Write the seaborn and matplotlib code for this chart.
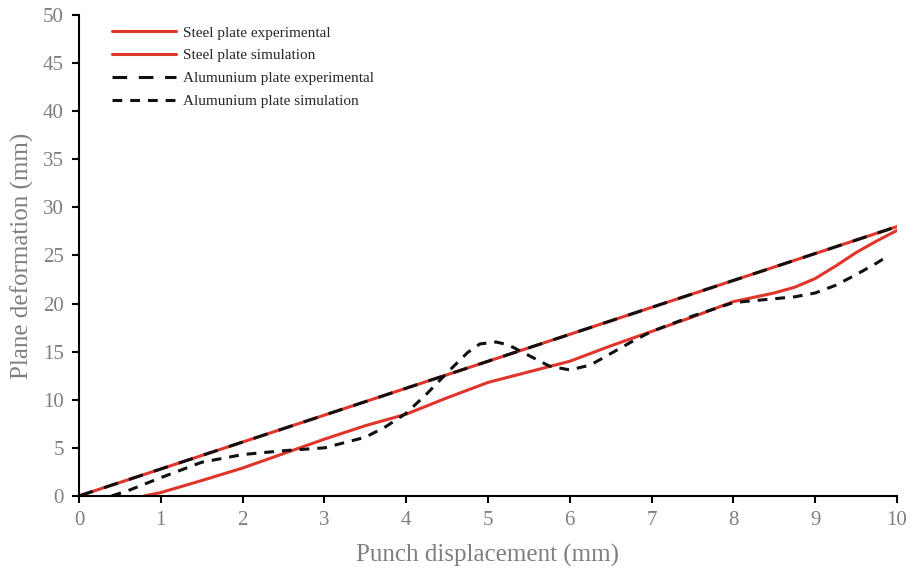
import numpy as np
import pandas as pd
import seaborn as sns
import matplotlib.pyplot as plt

# values
exp_x = [0, 10]
steel_exp_y = [0, 28]
alu_exp_y = [0, 28]

steel_sim_x = [0.8, 1.0, 1.5, 2.0, 2.5, 3.0, 3.5, 4.0, 4.5, 5.0, 5.5, 6.0, 6.5, 7.0, 7.5, 8.0,
               8.5, 8.75, 9.0, 9.25, 9.5, 9.75, 10.0]
steel_sim_y = [0.0, 0.35, 1.6, 2.9, 4.4, 5.9, 7.3, 8.5, 10.2, 11.8, 12.9, 14.0, 15.6, 17.1, 18.6, 20.2,
               21.1, 21.7, 22.6, 23.9, 25.3, 26.5, 27.6]

alu_sim_x = [0.4, 0.6, 1.0, 1.5, 2.0, 2.5, 3.0, 3.5, 3.75, 4.0, 4.25, 4.5, 4.75, 4.9, 5.1, 5.25, 5.5, 5.75,
             6.0, 6.25, 6.5, 6.75, 7.0, 7.5, 8.0, 8.5, 8.75, 9.0, 9.25, 9.5, 9.75, 9.9]
alu_sim_y = [0.0, 0.55, 1.9, 3.5, 4.3, 4.7, 5.0, 6.1, 7.2, 8.6, 10.6, 12.8, 14.9, 15.8, 16.0, 15.7, 14.6, 13.5,
             13.1, 13.6, 14.8, 16.0, 17.1, 18.7, 20.1, 20.5, 20.7, 21.1, 21.9, 23.0, 24.2, 25.0]

RED = "#e0352b"
GREY = "#7f7f7f"

sns.set_style("ticks")
plt.rcParams["font.family"] = ["Liberation Serif", "DejaVu Serif"]

fig = plt.figure(figsize=(9.14, 5.76), dpi=100)
ax = fig.add_axes([0.0864, 0.139, 0.895, 0.835])

lw = 2.2
line_kw = dict(lw=lw, ax=ax, sort=False, solid_joinstyle="round", dash_joinstyle="round")
sns.lineplot(x=exp_x, y=steel_exp_y, color=RED, label="Steel plate experimental", **line_kw)
sns.lineplot(x=steel_sim_x, y=steel_sim_y, color=RED, label="Steel plate simulation", **line_kw)
sns.lineplot(x=exp_x, y=alu_exp_y, color="#111111", linestyle=(0, (4.8, 3.8)),
             label="Alumunium plate experimental", **line_kw)
sns.lineplot(x=alu_sim_x, y=alu_sim_y, color="#111111", linestyle=(0, (3.2, 2.6)),
             label="Alumunium plate simulation", **line_kw)

ax.set_xlim(0, 10)
ax.set_ylim(0, 50)
ax.set_xticks(range(0, 11))
ax.set_yticks(range(0, 51, 5))
for s in ["top", "right"]:
    ax.spines[s].set_visible(False)
for s in ["left", "bottom"]:
    ax.spines[s].set_linewidth(1.5)
    ax.spines[s].set_color("black")
ax.tick_params(direction="out", length=5, width=1.5, color="black",
               labelcolor=GREY, labelsize=15, pad=6)

ax.set_xlabel("Punch displacement (mm)", fontsize=18, color=GREY, labelpad=10)
ax.set_ylabel("Plane deformation (mm)", fontsize=18, color=GREY, labelpad=6)

ax.legend(loc="upper left", bbox_to_anchor=(0.023, 1.006), frameon=False, fontsize=11,
          handlelength=4.2, handletextpad=0.45, labelspacing=0.6)

plt.savefig("out.png", dpi=100)
plt.close()
